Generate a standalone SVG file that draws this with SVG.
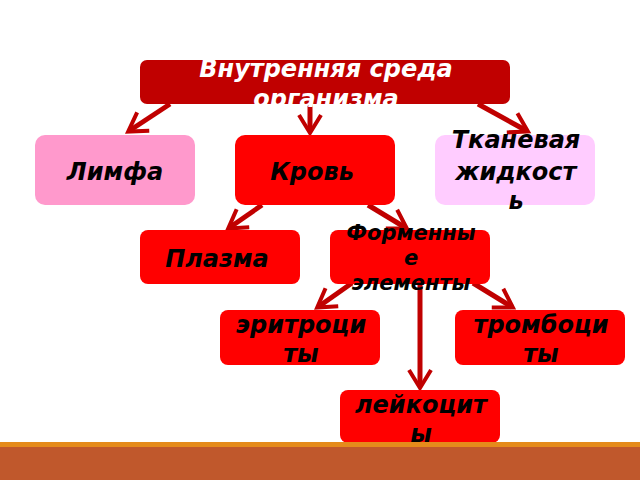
<svg xmlns="http://www.w3.org/2000/svg" width="640" height="480" viewBox="0 0 640 480">
<defs>
<style>
.t{font-family:"DejaVu Sans",sans-serif;font-weight:bold;font-style:italic;text-anchor:middle;fill:#000;font-size:24px}
.s{font-size:21px}
.w{fill:#fff}
.red{fill:#ff0000}
.c{stroke:#c00000;stroke-width:5;fill:none}
</style>
<marker id="ah" markerWidth="10" markerHeight="10" refX="9" refY="5" orient="auto" markerUnits="userSpaceOnUse" viewBox="0 0 10 10" overflow="visible">
<polyline points="-8,-6 10,5 -8,16" fill="none" stroke="#c00000" stroke-width="4"/>
</marker>
</defs>
<rect width="640" height="480" fill="#fff"/>
<g id="connectors">
<line class="c" x1="170" y1="104" x2="129" y2="131" marker-end="url(#ah)"/>
<line class="c" x1="310" y1="104" x2="310" y2="132" marker-end="url(#ah)"/>
<line class="c" x1="478" y1="104" x2="527" y2="131" marker-end="url(#ah)"/>
<line class="c" x1="262" y1="205" x2="229" y2="228" marker-end="url(#ah)"/>
<line class="c" x1="368" y1="205" x2="406" y2="228" marker-end="url(#ah)"/>
<line class="c" x1="352" y1="283" x2="318" y2="307" marker-end="url(#ah)"/>
<line class="c" x1="420" y1="283" x2="420" y2="387" marker-end="url(#ah)"/>
<line class="c" x1="473" y1="283" x2="512" y2="307" marker-end="url(#ah)"/>
</g>
<g id="root">
<rect x="140" y="60" width="370" height="44" rx="7" fill="#c00000"/>
<text class="t w" x="326" y="77">Внутренняя среда</text>
<text class="t w" x="326" y="107">организма</text>
</g>
<g id="limfa">
<rect x="35" y="135" width="160" height="70" rx="10" fill="#ff99cc"/>
<text class="t" x="115" y="180">Лимфа</text>
</g>
<g id="krov">
<rect x="235" y="135" width="160" height="70" rx="10" class="red"/>
<text class="t" x="312" y="180">Кровь</text>
</g>
<g id="tkan">
<rect x="435" y="135" width="160" height="70" rx="10" fill="#ffccff"/>
<text class="t" x="516" y="148">Тканевая</text>
<text class="t" x="516" y="180">жидкост</text>
<text class="t" x="516" y="209">ь</text>
</g>
<g id="plazma">
<rect x="140" y="230" width="160" height="54" rx="8" class="red"/>
<text class="t" x="217" y="267">Плазма</text>
</g>
<g id="forment">
<rect x="330" y="230" width="160" height="54" rx="8" class="red"/>
<text class="t s" x="411" y="240">Форменны</text>
<text class="t s" x="411" y="265">е</text>
<text class="t s" x="411" y="290">элементы</text>
</g>
<g id="eritr">
<rect x="220" y="310" width="160" height="55" rx="8" class="red"/>
<text class="t" x="301" y="333">эритроци</text>
<text class="t" x="301" y="362">ты</text>
</g>
<g id="tromb">
<rect x="455" y="310" width="170" height="55" rx="8" class="red"/>
<text class="t" x="541" y="333">тромбоци</text>
<text class="t" x="541" y="362">ты</text>
</g>
<g id="leik">
<rect x="340" y="390" width="160" height="53" rx="8" class="red"/>
<text class="t" x="421" y="413">лейкоцит</text>
<text class="t" x="421" y="442">ы</text>
</g>
<rect x="0" y="442" width="640" height="6" fill="#e58b1b"/>
<rect x="0" y="447" width="640" height="33" fill="#c0582c"/>
</svg>
